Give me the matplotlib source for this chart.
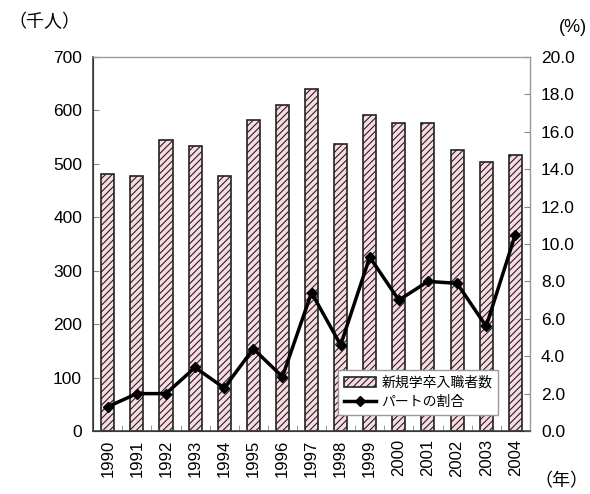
import matplotlib.pyplot as plt
import numpy as np

plt.rcParams['font.family'] = ['Liberation Sans', 'Noto Sans CJK JP', 'DejaVu Sans']
plt.rcParams['hatch.color'] = '#d890a2'
plt.rcParams['hatch.linewidth'] = 0.8

# data
years = ['1990', '1991', '1992', '1993', '1994', '1995', '1996', '1997',
         '1998', '1999', '2000', '2001', '2002', '2003', '2004']
new_grads = [482, 478, 545, 533, 478, 582, 610, 641,
             538, 591, 576, 576, 526, 504, 516]
part_ratio = [1.3, 2.0, 2.0, 3.4, 2.3, 4.4, 2.9, 7.4,
              4.6, 9.3, 7.0, 8.0, 7.9, 5.6, 10.5]

fig = plt.figure(figsize=(5.9, 4.94), dpi=100)
ax = fig.add_axes([0.158, 0.1275, 0.74, 0.757])
ax2 = ax.twinx()

x = np.arange(len(years))
bars = ax.bar(x, new_grads, width=0.45, color='#fadbe2', edgecolor='#222222',
              linewidth=1.2, hatch='/////', zorder=2)
line, = ax2.plot(x, part_ratio, color='black', linewidth=2.5, marker='D',
                 markersize=5, zorder=3)

ax.set_xlim(-0.5, len(years) - 0.5)
ax.set_ylim(0, 700)
ax.set_yticks(range(0, 701, 100))
ax2.set_ylim(0, 20)
ax2.set_yticks(np.arange(0, 20.1, 2))
ax2.set_yticklabels([f'{v:.1f}' for v in np.arange(0, 20.1, 2)])

ax.set_xticks(x)
ax.set_xticklabels(years, rotation=90)
ax.set_xticks(x[:-1] + 0.5, minor=True)
ax.tick_params(axis='x', which='major', length=0, labelsize=12, pad=6)
ax.tick_params(axis='x', which='minor', direction='in', length=4, color='#888888')
ax.tick_params(axis='y', direction='in', length=4, labelsize=12.5, pad=8, color='#888888')
ax2.tick_params(axis='y', direction='in', length=4, labelsize=12.5, pad=8, color='#888888')

for sp in ['top', 'right']:
    ax2.spines[sp].set_color('#999999')
ax2.spines['left'].set_color('#444444')
ax2.spines['bottom'].set_color('#444444')
ax2.spines['left'].set_linewidth(1.2)
ax2.spines['bottom'].set_linewidth(1.2)

ax2.legend([bars, line], ['新規学卒入職者数', 'パートの割合'],
           loc='lower left', bbox_to_anchor=(0.545, 0.025),
           frameon=True, fancybox=False, edgecolor='#999999', framealpha=1,
           handlelength=2.3, handletextpad=0.4, borderpad=0.4, labelspacing=0.4,
           prop={'family': ['Noto Sans CJK JP'], 'size': 10})

fig.text(0.015, 0.955, '（千人）', fontsize=13, family=['Noto Sans CJK JP'], va='center')
fig.text(0.995, 0.945, '(%)', fontsize=13, ha='right', va='center')
fig.text(0.905, 0.025, '（年）', fontsize=13, family=['Noto Sans CJK JP'], va='center')

fig.savefig('out.png', dpi=100)
